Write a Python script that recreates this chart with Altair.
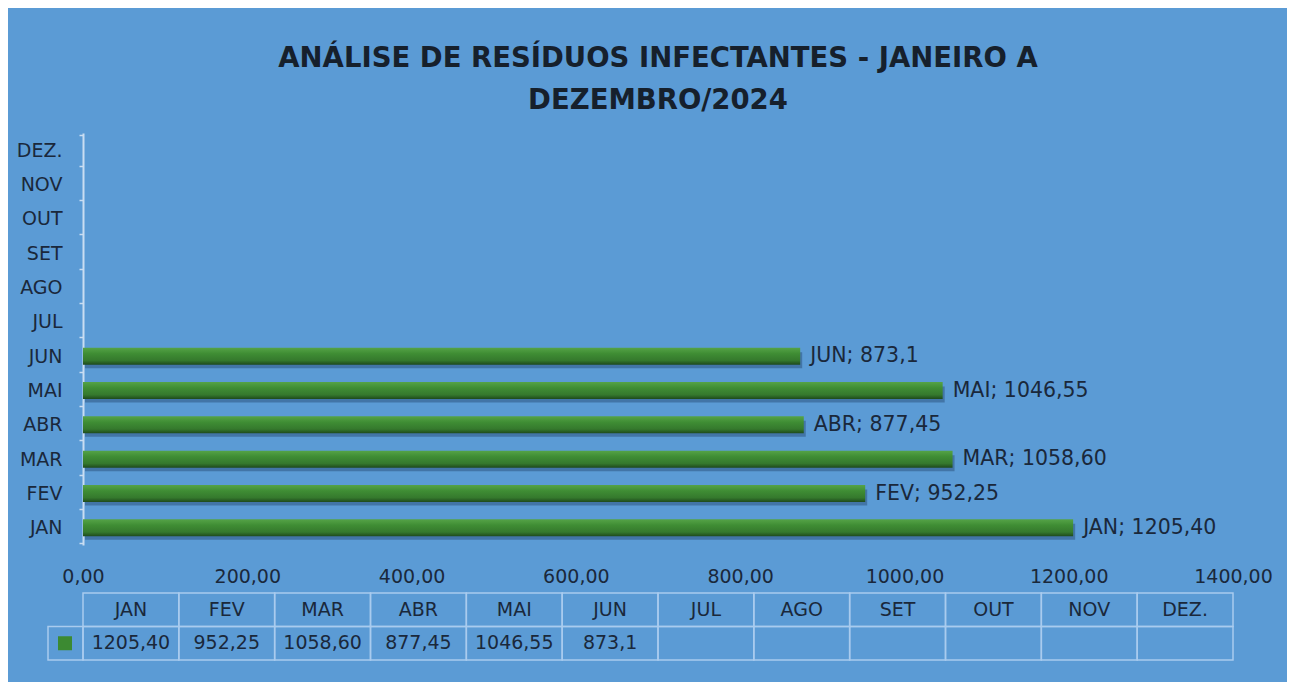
import altair as alt
import pandas as pd

# ---- data ----
months = ["JAN", "FEV", "MAR", "ABR", "MAI", "JUN", "JUL", "AGO", "SET", "OUT", "NOV", "DEZ."]
values = [1205.40, 952.25, 1058.60, 877.45, 1046.55, 873.1]
value_labels = ["1205,40", "952,25", "1058,60", "877,45", "1046,55", "873,1"]
x_ticks = [0, 200, 400, 600, 800, 1000, 1200, 1400]
title_lines = ["ANÁLISE DE RESÍDUOS INFECTANTES - JANEIRO A", "DEZEMBRO/2024"]

BG = "#5b9bd5"
TXT = "#1a283b"
GREEN = "#3c8a32"
LINE = "#a9cbee"
FONT = "DejaVu Sans"

bars_df = pd.DataFrame({
    "month": months[:len(values)],
    "value": values,
    "label": value_labels,
})

table_rows = []
for i, m in enumerate(months):
    table_rows.append({"month": m, "row": "h", "text": m})
    table_rows.append({"month": m, "row": "v", "text": value_labels[i] if i < len(value_labels) else ""})
table_df = pd.DataFrame(table_rows)
key_df = pd.DataFrame({"row": ["v"]})

# ---- main bar chart ----
x_enc = alt.X(
    "value:Q",
    scale=alt.Scale(domain=[0, 1400], nice=False),
    axis=alt.Axis(
        values=x_ticks,
        labelExpr="replace(format(datum.value, '.2f'), '.', ',')",
        domain=False, ticks=False, grid=False,
        labelFlush=False, labelOverlap=False,
        labelPadding=22, labelFontSize=19, labelFont=FONT, labelColor=TXT,
        title="",
    ),
)
y_enc = alt.Y(
    "month:N",
    scale=alt.Scale(domain=months[::-1]),
    axis=alt.Axis(
        domainColor="#c9ddf2", domainWidth=2,
        tickColor="#c9ddf2", tickSize=4, tickWidth=1.5, tickBand="extent",
        labelPadding=17, labelFontSize=19, labelFont=FONT, labelColor=TXT,
        grid=False, title="",
    ),
)

base = alt.Chart(bars_df).encode(x=x_enc, y=y_enc)

shadow = base.mark_bar(size=16, color="#24466e", opacity=0.45, yOffset=4, xOffset=2)

bar_gradient = alt.Gradient(
    gradient="linear",
    stops=[
        alt.GradientStop(offset=0, color="#55a347"),
        alt.GradientStop(offset=0.35, color="#3f8d34"),
        alt.GradientStop(offset=0.75, color="#35792d"),
        alt.GradientStop(offset=1, color="#1e4a1c"),
    ],
    x1=0, x2=0, y1=0, y2=1,
)
bars = base.mark_bar(size=17, color=bar_gradient)

labels = base.mark_text(
    align="left", baseline="middle", dx=10, fontSize=20.5, font=FONT, color=TXT
).encode(text="full:N").transform_calculate(full="datum.month + '; ' + datum.label")

main = alt.layer(shadow, bars, labels).properties(
    width=1150,
    height=412,
    title=alt.TitleParams(
        text=title_lines,
        font=FONT, fontSize=27.5, fontWeight="bold", color="#16202c",
        lineHeight=42, anchor="middle", offset=10,
    ),
)

# ---- data table below ----
tx = alt.X("month:N", sort=months,
           scale=alt.Scale(domain=months, paddingInner=0, paddingOuter=0), axis=None)
ty = alt.Y("row:N", scale=alt.Scale(domain=["h", "v"], paddingInner=0, paddingOuter=0), axis=None)

tbase = alt.Chart(table_df).encode(x=tx, y=ty)
cells = tbase.mark_rect(fillOpacity=0, stroke=LINE, strokeWidth=1.5)
cell_text = tbase.mark_text(fontSize=19, font=FONT, color=TXT, baseline="middle").encode(text="text:N")

key_cell = alt.Chart(key_df).mark_rect(fillOpacity=0, stroke=LINE, strokeWidth=1.5).encode(
    x=alt.value(-35), x2=alt.value(0), y=ty
)
key_square = alt.Chart(key_df).mark_square(size=196, color=GREEN, opacity=1, filled=True).encode(
    x=alt.value(-18), y=ty
)

table = alt.layer(cells, cell_text, key_cell, key_square).properties(width=1150, height=67)

chart = alt.vconcat(main, table, spacing=48, bounds="flush").configure(
    background=BG,
    padding={"left": 8, "right": 14, "top": 36, "bottom": 21},
).configure_view(strokeWidth=0)

chart.save("out.html", embed_options={"renderer": "svg", "actions": False})
